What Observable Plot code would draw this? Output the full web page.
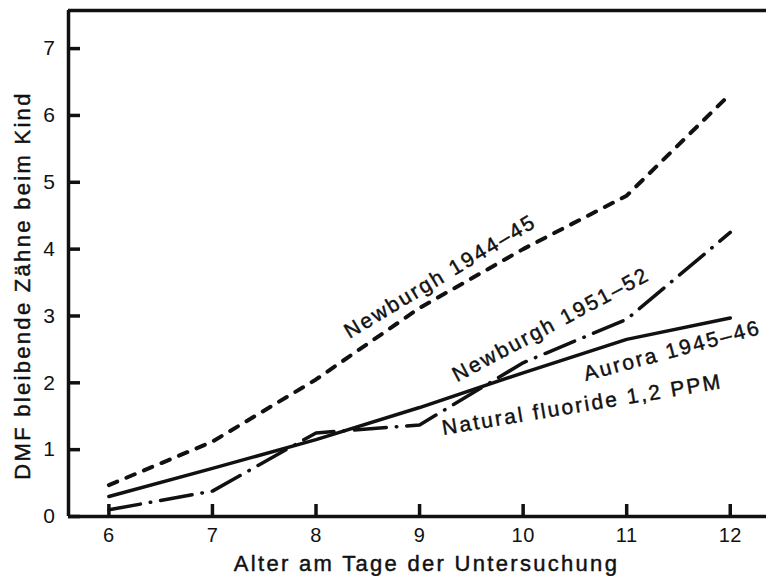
<!DOCTYPE html>
<html><head><meta charset="utf-8">
<script src="https://cdn.jsdelivr.net/npm/d3@7"></script>
<script src="https://cdn.jsdelivr.net/npm/@observablehq/plot@0.6"></script>
<style>
html,body{margin:0;padding:0;background:#fff;}
#chart svg text{letter-spacing:2.3px;}
#chart svg g[aria-label="x-axis tick label"] text,
#chart svg g[aria-label="y-axis tick label"] text{letter-spacing:0.5px;}
</style></head><body><div id="chart"></div>
<script>
const ages = [6, 7, 8, 9, 10, 11, 12];
const newburgh4445 = [0.47, 1.12, 2.05, 3.12, 4.0, 4.8, 6.32];
const newburgh5152 = [0.1, 0.38, 1.25, 1.37, 2.3, 2.95, 4.25];
const aurora4546 = [0.3, 0.72, 1.15, 1.63, 2.15, 2.65, 2.97];
const xTicks = [6, 7, 8, 9, 10, 11, 12];
const yTicks = [0, 1, 2, 3, 4, 5, 6, 7];
const labelTexts = ["Newburgh 1944–45", "Newburgh 1951–52", "Aurora 1945–46", "Natural fluoride 1,2 PPM"];
const labelX = [9.2, 10.27, 11.44, 10.57];
const labelY = [3.59, 2.87, 2.48, 1.67];
const labelAngle = [-31, -28, -15, -9.5];
const xTitle = "Alter am Tage der Untersuchung";
const yTitle = "DMF bleibende Zähne beim Kind";
const xDomain = [5.61, 12.35];
const yDomain = [0, 7.57];

const toRows = (vals) => ages.map((a, i) => ({age: a, v: vals[i]}));
const labels = labelTexts.map((t, i) => ({t, x: labelX[i], y: labelY[i], r: labelAngle[i]}));
const ink = "#111";
const fat = {stroke: ink, strokeWidth: 0.45, fill: ink};

const chart = Plot.plot({
  width: 766,
  height: 576,
  marginLeft: 68,
  marginRight: 0,
  marginTop: 10,
  marginBottom: 60,
  style: {fontFamily: "'Liberation Sans', Arial, sans-serif", background: "#fff", color: ink},
  x: {domain: xDomain},
  y: {domain: yDomain},
  marks: [
    Plot.axisX({ticks: xTicks, tickSize: 0, tickPadding: 11, tickFormat: d => String(d), fontSize: 20, label: null, ...fat}),
    Plot.axisY({ticks: yTicks, tickSize: 0, tickPadding: 13, tickFormat: d => String(d), fontSize: 21, label: null, ...fat}),
    Plot.tickX(xTicks.map(v => ({v})), {x: "v", stroke: ink, strokeWidth: 3.5, insetTop: 494}),
    Plot.tickY(yTicks.map(v => ({v})), {y: "v", stroke: ink, strokeWidth: 3.5, insetRight: 686}),
    Plot.ruleX([xDomain[0]], {stroke: ink, strokeWidth: 3.5}),
    Plot.ruleY([yDomain[0]], {stroke: ink, strokeWidth: 3.5}),
    Plot.ruleY([yDomain[1]], {stroke: ink, strokeWidth: 3.5}),
    Plot.line(toRows(newburgh4445), {x: "age", y: "v", stroke: ink, strokeWidth: 4, strokeDasharray: "9,10", strokeLinecap: "round"}),
    Plot.line(toRows(newburgh5152), {x: "age", y: "v", stroke: ink, strokeWidth: 3.5, strokeDasharray: "32,10,0.5,10", strokeLinecap: "round"}),
    Plot.line(toRows(aurora4546), {x: "age", y: "v", stroke: ink, strokeWidth: 3.5}),
    Plot.text(labels, {x: "x", y: "y", text: "t", rotate: "r", fontSize: 21, textAnchor: "middle", lineAnchor: "middle", ...fat}),
    Plot.text([xTitle], {frameAnchor: "bottom", dx: 9, dy: 47, fontSize: 22, textAnchor: "middle", lineAnchor: "middle", ...fat}),
    Plot.text([yTitle], {frameAnchor: "left", dx: -46, dy: 22, rotate: -90, fontSize: 22, textAnchor: "middle", lineAnchor: "middle", ...fat})
  ]
});
document.getElementById("chart").appendChild(chart);
</script></body></html>
